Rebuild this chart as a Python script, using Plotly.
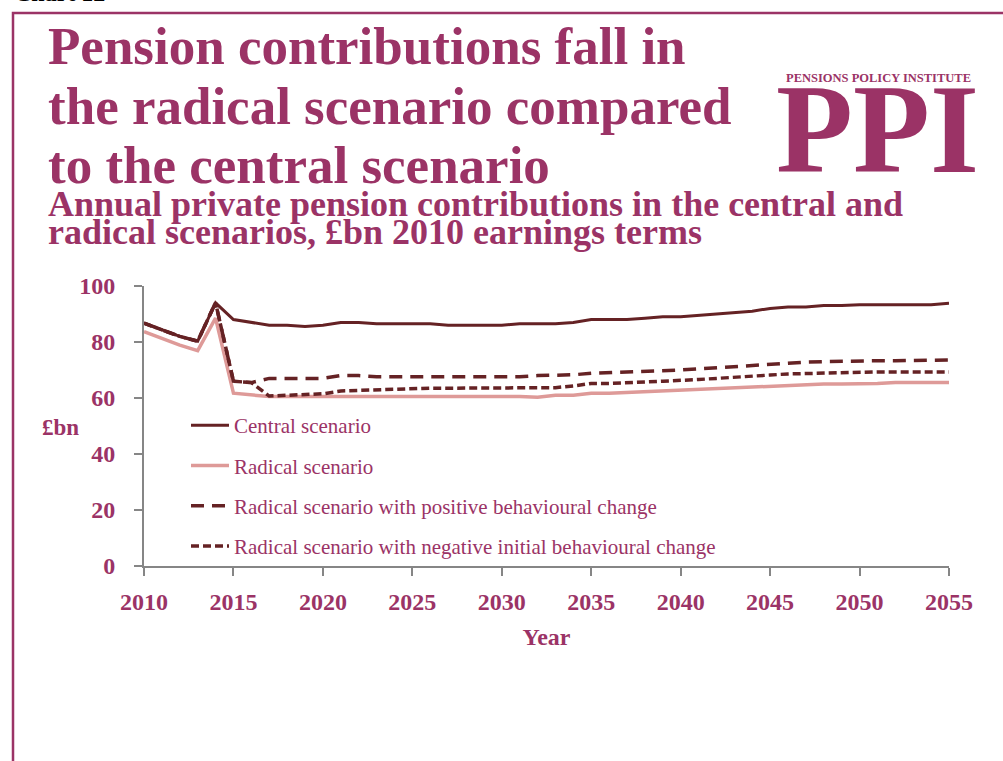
import plotly.graph_objects as go

# ---- data: annual private pension contributions, £bn (2010 earnings terms)
years = list(range(2010, 2056))

central = [86.7, 84.3, 82.0, 80.3, 94.0, 88.0, 87.0, 86.0, 86.0, 85.5,
           86.0, 87.0, 87.0, 86.5, 86.5, 86.5, 86.5, 86.0, 86.0, 86.0,
           86.0, 86.5, 86.5, 86.5, 87.0, 88.0, 88.0, 88.0, 88.5, 89.0,
           89.0, 89.5, 90.0, 90.5, 91.0, 92.0, 92.5, 92.5, 93.0, 93.0,
           93.3, 93.3, 93.3, 93.3, 93.3, 93.8]

radical = [83.7, 81.3, 78.9, 76.9, 88.5, 61.7, 61.0, 60.5, 60.5, 60.5,
           60.5, 60.7, 60.7, 60.7, 60.7, 60.5, 60.5, 60.5, 60.5, 60.5,
           60.5, 60.5, 60.3, 61.0, 61.0, 61.7, 61.7, 62.0, 62.0, 62.3,
           62.6, 63.0, 63.3, 63.7, 64.0, 64.4, 64.7, 64.8, 65.0, 65.0,
           65.0, 65.2, 65.5, 65.5, 65.5, 65.5]

positive = [86.7, 84.3, 82.0, 80.3, 94.0, 66.0, 65.5, 67.0, 67.0, 66.7,
            67.0, 68.0, 68.0, 67.6, 67.6, 67.6, 67.6, 67.6, 67.6, 67.6,
            67.6, 67.6, 68.0, 68.0, 68.3, 68.8, 69.0, 69.4, 69.6, 69.8,
            70.0, 70.4, 70.8, 71.2, 71.5, 72.2, 72.6, 72.8, 73.0, 73.2,
            73.3, 73.3, 73.3, 73.3, 73.3, 73.6]

negative = [86.7, 84.3, 82.0, 80.3, 94.0, 66.0, 65.5, 60.7, 61.0, 61.0,
            61.5, 62.5, 62.7, 63.0, 63.3, 63.5, 63.5, 63.5, 63.5, 63.5,
            63.5, 63.5, 63.5, 63.7, 64.3, 65.2, 65.2, 65.3, 65.7, 66.0,
            66.2, 66.6, 67.0, 67.3, 67.6, 68.2, 68.6, 68.8, 69.0, 69.2,
            69.3, 69.3, 69.3, 69.3, 69.3, 69.3]

series_names = ["Central scenario",
                "Radical scenario",
                "Radical scenario with positive behavioural change",
                "Radical scenario with negative initial behavioural change"]

y_ticks = [0, 20, 40, 60, 80, 100]
x_ticks = [2010, 2015, 2020, 2025, 2030, 2035, 2040, 2045, 2050, 2055]

# ---- styling
W, H = 1003, 761
L, R, T, B = 144, 949, 286, 566          # plot area in pixels
PLUM = "#9B3366"
MAROON = "#652224"
PINK = "#DE9A98"
AXIS = "#868686"
SERIF = "Liberation Serif"


def px(x):
    return (x - L) / (R - L)


def py(y):
    return (B - y) / (B - T)


fig = go.Figure()
fig.add_trace(go.Scatter(x=years, y=central, name=series_names[0], mode="lines",
                         line=dict(color=MAROON, width=3), legendgroup="a"))
fig.add_trace(go.Scatter(x=years, y=radical, name=series_names[1], mode="lines",
                         line=dict(color=PINK, width=3.5), legendgroup="b"))
fig.add_trace(go.Scatter(x=years, y=positive, name=series_names[2], mode="lines",
                         line=dict(color=MAROON, width=3.5, dash="13px,8px"),
                         legendgroup="c"))
fig.add_trace(go.Scatter(x=years, y=negative, name=series_names[3], mode="lines",
                         line=dict(color=MAROON, width=3.5, dash="8px,4px"),
                         legendgroup="d"))

axis_font = dict(family=SERIF, size=24, color=PLUM, weight="bold")

fig.update_xaxes(range=[2010, 2055], tickvals=x_ticks, showline=True,
                 linecolor=AXIS, linewidth=2, ticks="outside", ticklen=8,
                 tickwidth=1.5, tickcolor=AXIS, showgrid=False, zeroline=False,
                 tickfont=axis_font, ticklabelstandoff=5,
                 title=dict(text="Year", font=axis_font, standoff=14))
fig.update_yaxes(range=[0, 100], tickvals=y_ticks, showline=True,
                 linecolor=AXIS, linewidth=2, ticks="outside", ticklen=8,
                 tickwidth=1.5, tickcolor=AXIS, showgrid=False, zeroline=False,
                 tickfont=axis_font, ticklabelstandoff=14)

annotations = [
    dict(text="£bn", x=px(40), y=py(427), xanchor="left", yanchor="middle",
         font=dict(family=SERIF, size=23, color=PLUM, weight="bold")),
    dict(text="Chart 12", x=px(12), y=py(8), xanchor="left", yanchor="bottom",
         font=dict(family=SERIF, size=24, color="#000000", weight="bold")),
]
title_lines = [("Pension contributions fall in", 46),
               ("the radical scenario compared", 106),
               ("to the central scenario", 165)]
for text, yc in title_lines:
    annotations.append(dict(text=text, x=px(46), y=py(yc), xanchor="left",
                            yanchor="middle",
                            font=dict(family=SERIF, size=53, color=PLUM,
                                      weight="bold")))
sub_lines = [("Annual private pension contributions in the central and", 204),
             ("radical scenarios, £bn 2010 earnings terms", 232)]
for text, yc in sub_lines:
    annotations.append(dict(text=text, x=px(46), y=py(yc), xanchor="left",
                            yanchor="middle",
                            font=dict(family=SERIF, size=36, color=PLUM,
                                      weight="bold")))
# institute mark
annotations.append(dict(text="PENSIONS POLICY INSTITUTE", x=px(878), y=py(78),
                        xanchor="center", yanchor="middle",
                        font=dict(family=SERIF, size=12.5, color=PLUM,
                                  weight="bold")))
annotations.append(dict(text="PPI", x=px(877), y=py(129), xanchor="center",
                        yanchor="middle",
                        font=dict(family=SERIF, size=126, color=PLUM,
                                  weight="bold")))
for a in annotations:
    a.update(xref="paper", yref="paper", showarrow=False)

fig.update_layout(
    width=W, height=H,
    margin=dict(l=L, r=W - R, t=T, b=H - B, pad=0),
    paper_bgcolor="white", plot_bgcolor="white",
    showlegend=True,
    legend=dict(x=px(186), y=py(405), xanchor="left", yanchor="top",
                bgcolor="rgba(0,0,0,0)", itemwidth=38, tracegroupgap=10,
                font=dict(family=SERIF, size=21, color=PLUM)),
    annotations=annotations,
    shapes=[dict(type="rect", xref="paper", yref="paper",
                 x0=px(13), x1=px(1020), y0=py(13), y1=py(780),
                 line=dict(color=PLUM, width=2.5), layer="above")],
)

fig.write_html("out.html")
